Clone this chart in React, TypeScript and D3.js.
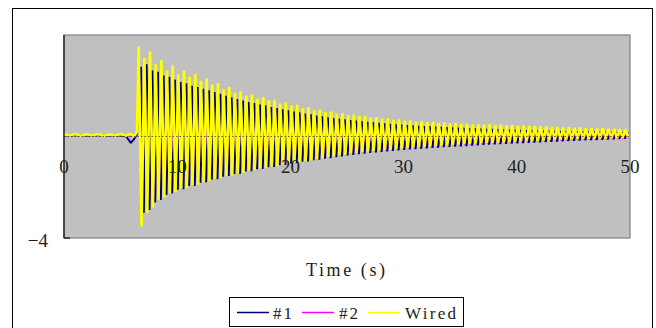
import * as d3 from "d3";

// lead-in before the excitation (time in s)
const leadTimes = [0, 0.5, 1, 1.5, 2, 2.5, 3, 3.5, 4, 4.5, 5, 5.5, 5.9, 6.2, 6.45];
const leadNo1 = [0.05, 0.03, 0.06, 0.04, 0.05, 0.03, 0.06, 0.04, 0.05, 0.03, 0.05, 0.0, -0.25, -0.1, 0.1];
const leadNo2 = [0.05, 0.06, 0.04, 0.05, 0.06, 0.04, 0.05, 0.06, 0.04, 0.05, 0.06, 0.05, 0.0, 0.05, 0.1];
const leadWired = [0.08, 0.04, 0.1, 0.03, 0.09, 0.04, 0.1, 0.03, 0.08, 0.04, 0.1, 0.03, 0.1, 0.0, 0.2];

// oscillation: one peak and one trough per 0.5 s cycle
const cycleStart = 6.6;
const cycleLength = 0.5;

const wiredPeaks = [
  3.55, 3.1, 3.35, 2.85, 3.0, 2.6, 2.8, 2.45, 2.6, 2.35,
  2.45, 2.2, 2.3, 2.05, 2.1, 1.85, 1.95, 1.72, 1.78, 1.6,
  1.65, 1.5, 1.55, 1.42, 1.45, 1.3, 1.35, 1.22, 1.25, 1.12,
  1.15, 1.04, 1.06, 0.96, 0.98, 0.9, 0.92, 0.84, 0.86, 0.8,
  0.81, 0.75, 0.76, 0.7, 0.72, 0.66, 0.67, 0.63, 0.64, 0.59,
  0.61, 0.56, 0.58, 0.54, 0.55, 0.52, 0.53, 0.5, 0.51, 0.48,
  0.49, 0.47, 0.48, 0.45, 0.46, 0.44, 0.45, 0.42, 0.43, 0.41,
  0.41, 0.39, 0.4, 0.37, 0.38, 0.35, 0.36, 0.34, 0.35, 0.32,
  0.33, 0.31, 0.32, 0.3, 0.3, 0.28, 0.27,
];
const wiredTroughs = [
  -3.55, -3.0, -2.8, -2.5, -2.4, -2.25, -2.2, -2.05, -2.05, -1.92,
  -1.9, -1.78, -1.76, -1.66, -1.64, -1.55, -1.53, -1.45, -1.43, -1.35,
  -1.33, -1.26, -1.24, -1.18, -1.16, -1.1, -1.08, -1.03, -1.01, -0.96,
  -0.94, -0.88, -0.86, -0.8, -0.78, -0.73, -0.71, -0.67, -0.65, -0.62,
  -0.6, -0.57, -0.56, -0.53, -0.52, -0.49, -0.48, -0.45, -0.44, -0.42,
  -0.41, -0.39, -0.38, -0.36, -0.35, -0.33, -0.32, -0.3, -0.29, -0.28,
  -0.27, -0.26, -0.25, -0.24, -0.23, -0.22, -0.21, -0.2, -0.19, -0.18,
  -0.17, -0.16, -0.15, -0.14, -0.13, -0.12, -0.11, -0.1, -0.1, -0.09,
  -0.08, -0.07, -0.07, -0.06, -0.06, -0.05, -0.05,
];

const no1Peaks = [
  2.75, 2.85, 2.6, 2.55, 2.4, 2.35, 2.25, 2.15, 2.1, 2.0,
  1.95, 1.88, 1.82, 1.75, 1.68, 1.6, 1.55, 1.48, 1.42, 1.36,
  1.32, 1.26, 1.22, 1.16, 1.12, 1.07, 1.03, 0.98, 0.95, 0.9,
  0.87, 0.83, 0.8, 0.76, 0.73, 0.7, 0.68, 0.65, 0.63, 0.6,
  0.58, 0.56, 0.54, 0.52, 0.5, 0.48, 0.47, 0.45, 0.44, 0.42,
  0.41, 0.4, 0.39, 0.38, 0.37, 0.36, 0.35, 0.34, 0.33, 0.32,
  0.31, 0.3, 0.3, 0.29, 0.28, 0.27, 0.27, 0.26, 0.25, 0.25,
  0.24, 0.23, 0.23, 0.22, 0.22, 0.21, 0.21, 0.2, 0.2, 0.19,
  0.19, 0.18, 0.18, 0.17, 0.17, 0.16, 0.16,
];
const no1Troughs = [
  -3.0, -2.9, -2.6, -2.5, -2.3, -2.25, -2.1, -2.08, -1.95, -1.95,
  -1.82, -1.8, -1.7, -1.68, -1.58, -1.56, -1.48, -1.47, -1.38, -1.37,
  -1.29, -1.28, -1.21, -1.2, -1.13, -1.12, -1.06, -1.05, -0.99, -0.98,
  -0.93, -0.91, -0.87, -0.85, -0.81, -0.79, -0.75, -0.73, -0.7, -0.68,
  -0.65, -0.63, -0.61, -0.59, -0.57, -0.55, -0.53, -0.51, -0.5, -0.48,
  -0.47, -0.45, -0.44, -0.42, -0.41, -0.4, -0.39, -0.38, -0.36, -0.35,
  -0.33, -0.32, -0.31, -0.3, -0.29, -0.28, -0.27, -0.26, -0.25, -0.24,
  -0.23, -0.22, -0.21, -0.2, -0.19, -0.18, -0.17, -0.16, -0.15, -0.14,
  -0.13, -0.12, -0.11, -0.1, -0.09, -0.08, -0.07,
];

const no2Peaks = [
  2.4, 2.5, 2.3, 2.2, 2.1, 2.05, 1.95, 1.9, 1.85, 1.78,
  1.72, 1.66, 1.6, 1.55, 1.5, 1.45, 1.4, 1.35, 1.3, 1.26,
  1.22, 1.18, 1.14, 1.1, 1.06, 1.02, 0.98, 0.95, 0.92, 0.88,
  0.85, 0.82, 0.79, 0.76, 0.73, 0.7, 0.68, 0.65, 0.63, 0.6,
  0.58, 0.56, 0.54, 0.52, 0.5, 0.48, 0.47, 0.45, 0.44, 0.42,
  0.41, 0.4, 0.38, 0.37, 0.36, 0.35, 0.34, 0.33, 0.32, 0.31,
  0.3, 0.29, 0.28, 0.27, 0.27, 0.26, 0.25, 0.24, 0.24, 0.23,
  0.22, 0.22, 0.21, 0.2, 0.2, 0.19, 0.19, 0.18, 0.18, 0.17,
  0.17, 0.16, 0.16, 0.15, 0.15, 0.14, 0.14,
];
const no2Troughs = [
  -2.7, -2.5, -2.35, -2.2, -2.1, -2.0, -1.92, -1.85, -1.78, -1.72,
  -1.66, -1.6, -1.55, -1.5, -1.45, -1.4, -1.36, -1.32, -1.28, -1.24,
  -1.2, -1.16, -1.12, -1.08, -1.05, -1.02, -0.98, -0.95, -0.92, -0.89,
  -0.86, -0.83, -0.8, -0.77, -0.75, -0.72, -0.69, -0.67, -0.64, -0.62,
  -0.6, -0.58, -0.56, -0.54, -0.52, -0.5, -0.48, -0.46, -0.45, -0.43,
  -0.42, -0.4, -0.39, -0.37, -0.36, -0.35, -0.33, -0.32, -0.31, -0.3,
  -0.29, -0.28, -0.27, -0.26, -0.25, -0.24, -0.23, -0.22, -0.21, -0.2,
  -0.19, -0.18, -0.17, -0.16, -0.16, -0.15, -0.14, -0.13, -0.13, -0.12,
  -0.11, -0.11, -0.1, -0.1, -0.09, -0.09, -0.08,
];

const xTicks = [0, 10, 20, 30, 40, 50];
const seriesNames = ["#1", "#2", "Wired"];
const seriesColors = ["#000080", "#ff00ff", "#ffff00"];

const width = 656;
const height = 328;
const plot = { left: 64, right: 630, top: 35, bottom: 238 };

type Pt = [number, number];

function buildSeries(lead: number[], peaks: number[], troughs: number[], shift: number): Pt[] {
  const pts: Pt[] = leadTimes.map((t, i) => [t, lead[i]]);
  peaks.forEach((p, i) => {
    const t = cycleStart + shift + i * cycleLength;
    pts.push([t, p]);
    if (troughs[i] != null) pts.push([t + cycleLength / 2, troughs[i]]);
  });
  return pts.filter((d) => d[0] <= 50);
}

export default function App() {
  const x = d3.scaleLinear().domain([0, 50]).range([plot.left, plot.right]);
  const y = d3.scaleLinear().domain([-4, 4]).range([plot.bottom, plot.top]);
  const line = d3
    .line<Pt>()
    .x((d) => x(d[0]))
    .y((d) => y(d[1]));

  const series = [
    buildSeries(leadNo1, no1Peaks, no1Troughs, 0.2),
    buildSeries(leadNo2, no2Peaks, no2Troughs, 0.05),
    buildSeries(leadWired, wiredPeaks, wiredTroughs, 0),
  ];
  const widths = [2, 1.3, 2.6];

  const serif = "'Liberation Serif', 'DejaVu Serif', serif";
  const legendX = [237, 302, 368];
  const legendTextX = [273, 339, 405];

  return (
    <svg width={width} height={height} style={{ position: "absolute", left: 0, top: 0 }} fontFamily={serif}>
      <rect x={0} y={0} width={width} height={height} fill="#fff" />
      <rect x={12.5} y={8.5} width={640} height={340} fill="#fff" stroke="#000" strokeWidth={1} />

      <rect x={plot.left} y={plot.top} width={plot.right - plot.left} height={plot.bottom - plot.top} fill="#c0c0c0" stroke="#808080" strokeWidth={1.2} />

      <defs>
        <clipPath id="plotClip">
          <rect x={plot.left} y={plot.top} width={plot.right - plot.left} height={plot.bottom - plot.top} />
        </clipPath>
      </defs>

      <g clipPath="url(#plotClip)">
        {series.map((s, i) => (
          <path key={seriesNames[i]} d={line(s) ?? ""} fill="none" stroke={seriesColors[i]} strokeWidth={widths[i]} strokeLinejoin="bevel" />
        ))}
      </g>

      <line x1={plot.left} x2={plot.right} y1={y(0)} y2={y(0)} stroke="#3a3a3a" strokeWidth={1} strokeDasharray="1.5 2" opacity={0.8} />
      <line x1={plot.left} x2={plot.left} y1={plot.top} y2={plot.bottom} stroke="#202020" strokeWidth={1.4} />
      <line x1={plot.left} x2={plot.left + 6} y1={plot.bottom} y2={plot.bottom} stroke="#202020" strokeWidth={1.4} />

      {xTicks.map((t) => (
        <text key={t} x={x(t)} y={173} textAnchor="middle" fontSize={19} fill="#222">
          {t}
        </text>
      ))}
      <text x={48} y={247} textAnchor="end" fontSize={19} fill="#222">
        −4
      </text>

      <text x={306} y={276} fontSize={18} fill="#222" textLength={79} lengthAdjust="spacing">
        Time (s)
      </text>

      <rect x={229.5} y={297.5} width={234} height={29} fill="#fff" stroke="#000" strokeWidth={1} />
      {seriesNames.map((name, i) => (
        <g key={name}>
          <line x1={legendX[i]} x2={legendX[i] + 32} y1={312.5} y2={312.5} stroke={seriesColors[i]} strokeWidth={1.5} />
          <text x={legendTextX[i]} y={319} fontSize={17} fill="#222" textLength={name === "Wired" ? 51 : 19} lengthAdjust="spacing">
            {name}
          </text>
        </g>
      ))}
    </svg>
  );
}
